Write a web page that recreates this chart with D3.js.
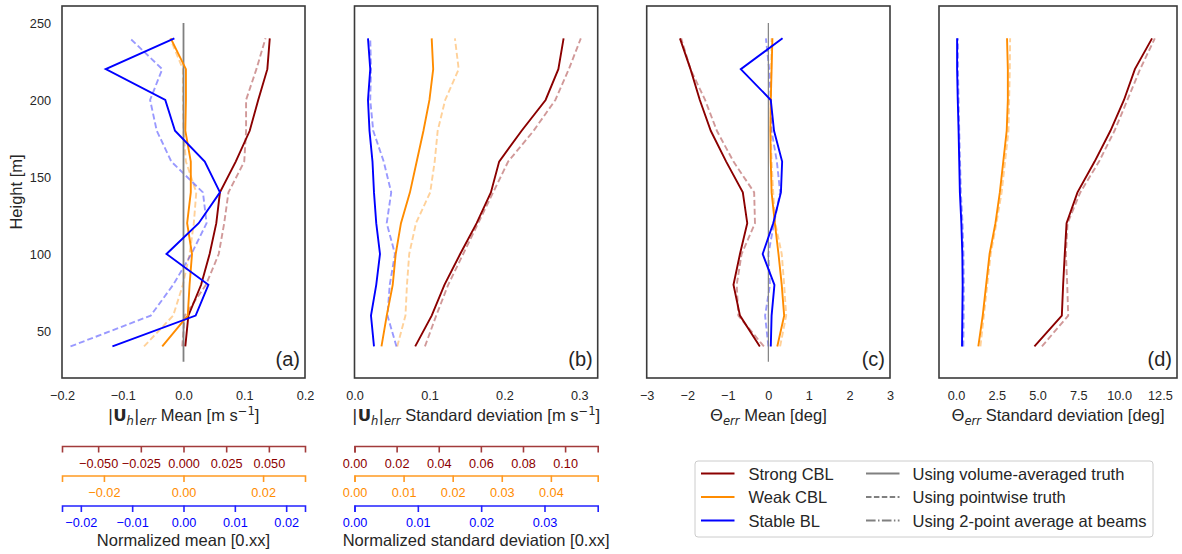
<!DOCTYPE html>
<html><head><meta charset="utf-8">
<script src="https://cdn.jsdelivr.net/npm/d3@7"></script>
<style>
html,body{margin:0;padding:0;background:#fff;}
svg{display:block;font-family:"Liberation Sans",Arial,sans-serif;}
</style></head>
<body>
<svg id="chart" width="1182" height="554"></svg>
<script>
// ---------------- DATA ----------------
const heights = [40, 60, 80, 100, 120, 140, 160, 180, 200, 220, 240];
const refHeights = [30, 250];
const yTicks = [50, 100, 150, 200, 250];

// (a) |Uh|err mean [m/s]
const aStrongVol = [0.003, 0.008, 0.029, 0.043, 0.054, 0.060, 0.086, 0.109, 0.123, 0.138, 0.142];
const aStrongPt  = [-0.002, 0.002, 0.037, 0.058, 0.067, 0.074, 0.100, 0.103, 0.103, 0.120, 0.135];
const aWeakVol   = [-0.035, 0.007, 0.010, 0.014, 0.006, 0.012, 0.012, 0.003, 0.004, 0.004, -0.021];
const aWeakPt    = [-0.065, -0.017, -0.001, 0.010, 0.017, 0.021, 0.004, 0.000, -0.001, -0.001, -0.022];
const aStableVol = [-0.117, 0.020, 0.041, -0.028, 0.025, 0.060, 0.035, -0.014, -0.030, -0.128, -0.015];
const aStablePt  = [-0.186, -0.054, -0.017, 0.013, 0.038, 0.032, -0.020, -0.044, -0.055, -0.035, -0.088];

// (b) |Uh|err standard deviation [m/s]
const bStrongVol = [0.081, 0.103, 0.120, 0.141, 0.163, 0.182, 0.193, 0.223, 0.255, 0.272, 0.279];
const bStrongPt  = [0.094, 0.109, 0.125, 0.145, 0.165, 0.185, 0.205, 0.239, 0.268, 0.286, 0.302];
const bWeakVol   = [0.036, 0.043, 0.051, 0.055, 0.062, 0.074, 0.083, 0.092, 0.100, 0.105, 0.103];
const bWeakPt    = [0.057, 0.068, 0.070, 0.073, 0.082, 0.101, 0.107, 0.111, 0.121, 0.139, 0.134];
const bStableVol = [0.026, 0.022, 0.029, 0.034, 0.029, 0.026, 0.024, 0.020, 0.018, 0.021, 0.018];
const bStablePt  = [0.056, 0.044, 0.047, 0.054, 0.043, 0.049, 0.039, 0.025, 0.021, 0.022, 0.021];

// (c) Theta err mean [deg]
const cStrongVol = [-0.21, -0.70, -0.86, -0.70, -0.52, -0.63, -1.04, -1.42, -1.69, -1.92, -2.18];
const cStrongPt  = [-0.11, -0.74, -0.78, -0.66, -0.33, -0.35, -0.86, -1.27, -1.56, -1.92, -2.15];
const cWeakVol   = [0.22, 0.39, 0.33, 0.25, 0.16, 0.08, 0.06, 0.05, 0.06, 0.08, 0.10];
const cWeakPt    = [0.29, 0.44, 0.39, 0.33, 0.17, 0.12, 0.08, 0.06, 0.06, 0.07, 0.08];
const cStableVol = [0.06, 0.08, 0.15, -0.14, 0.12, 0.31, 0.34, 0.14, 0.06, -0.68, 0.35];
const cStablePt  = [0.00, -0.08, 0.04, 0.00, 0.14, 0.29, 0.21, 0.08, 0.06, 0.02, -0.06];

// (d) Theta err standard deviation [deg]
const dStrongVol = [4.81, 6.49, 6.57, 6.67, 6.78, 7.45, 8.50, 9.47, 10.30, 10.97, 12.02];
const dStrongPt  = [5.27, 6.88, 6.82, 6.74, 6.84, 7.62, 8.77, 9.72, 10.51, 11.29, 12.19];
const dWeakVol   = [1.37, 1.64, 1.85, 2.06, 2.42, 2.69, 2.90, 3.11, 3.18, 3.18, 3.13];
const dWeakPt    = [1.50, 1.71, 1.92, 2.13, 2.48, 2.80, 3.01, 3.22, 3.26, 3.30, 3.32];
const dStableVol = [0.37, 0.39, 0.41, 0.39, 0.33, 0.24, 0.20, 0.16, 0.11, 0.07, 0.07];
const dStablePt  = [0.45, 0.47, 0.48, 0.46, 0.40, 0.30, 0.25, 0.20, 0.16, 0.12, 0.12];

// main x ticks
const aTicks = [-0.2, -0.1, 0.0, 0.1, 0.2];
const bTicks = [0.0, 0.1, 0.2, 0.3];
const cTicks = [-3, -2, -1, 0, 1, 2, 3];
const dTicks = [0.0, 2.5, 5.0, 7.5, 10.0, 12.5];

// normalization factors (strong, weak, stable) for secondary axes
const caseNames = ["Strong CBL", "Weak CBL", "Stable BL"];
const normFactors = [2.81, 6.55, 8.45];
const meanNormTicks = [[-0.05, -0.025, 0, 0.025, 0.05], [-0.02, 0, 0.02], [-0.02, -0.01, 0, 0.01, 0.02]];
const stdNormTicks  = [[0, 0.02, 0.04, 0.06, 0.08, 0.10], [0, 0.01, 0.02, 0.03, 0.04], [0, 0.01, 0.02, 0.03]];
const meanNormFmt = [".3f", ".2f", ".2f"];
const stdNormFmt = [".2f", ".2f", ".2f"];
const styleNames = ["Using volume-averaged truth", "Using pointwise truth", "Using 2-point average at beams"];

// ---------------- STYLE ----------------
const caseColors = ["#8b0000", "#ff8c00", "#0000ff"];
const spineColors = ["#a23b3b", "#ff9a22", "#2222ff"];
const textCol = "#262626";
const TICK_FS = 12.7, TITLE_FS = 16.5, LEG_FS = 16.5;
const MATH_FONT = "DejaVu Sans";

const svg = d3.select("#chart");
const plotTop = 6, plotBottom = 378;
const y = d3.scaleLinear().domain([19.5, 261]).range([plotBottom, plotTop]);

const panels = [
  {left: 62, right: 305, dom: [-0.2, 0.2], ticks: aTicks, fmt: ".1f", letter: "(a)",
   series: [[aStrongVol, aStrongPt], [aWeakVol, aWeakPt], [aStableVol, aStablePt]], ref: 1.8,
   title: [["|", "m"], ["U", "b"], ["h", "subi"], ["|", "m"], ["err", "subi"], [" Mean [m s", ""], ["−1", "sup"], ["]", ""]]},
  {left: 354.5, right: 597.7, dom: [0, 0.3245], ticks: bTicks, fmt: ".1f", letter: "(b)",
   series: [[bStrongVol, bStrongPt], [bWeakVol, bWeakPt], [bStableVol, bStablePt]], ref: 0,
   title: [["|", "m"], ["U", "b"], ["h", "subi"], ["|", "m"], ["err", "subi"], [" Standard deviation [m s", ""], ["−1", "sup"], ["]", ""]]},
  {left: 646.7, right: 890, dom: [-3, 3], ticks: cTicks, fmt: "d", letter: "(c)",
   series: [[cStrongVol, cStrongPt], [cWeakVol, cWeakPt], [cStableVol, cStablePt]], ref: 1.2,
   title: [["Θ", "m"], ["err", "subi"], [" Mean [deg]", ""]]},
  {left: 939, right: 1177, dom: [-1.04, 13.55], ticks: dTicks, fmt: ".1f", letter: "(d)",
   series: [[dStrongVol, dStrongPt], [dWeakVol, dWeakPt], [dStableVol, dStablePt]], ref: 0,
   title: [["Θ", "m"], ["err", "subi"], [" Standard deviation [deg]", ""]]}
];

function addRich(textSel, parts, fs) {
  const kinds = parts.map(p => p[1]);
  const shift = kk => kk === "subi" ? fs * 0.22 : (kk === "sup" ? -fs * 0.38 : 0);
  parts.forEach(([t, k], i) => {
    const ts = textSel.append("tspan").text(t);
    if (k !== "") ts.attr("font-family", MATH_FONT);
    if (k === "b") ts.attr("font-weight", "bold");
    if (k === "subi") ts.attr("font-style", "italic").attr("font-size", fs * 0.7);
    if (k === "sup") ts.attr("font-size", fs * 0.7);
    const dy = shift(k) - (i > 0 ? shift(kinds[i - 1]) : 0);
    if (dy !== 0) ts.attr("dy", dy);
  });
}

const line = (x) => d3.line().x(d => x(d[0])).y(d => y(d[1]));

panels.forEach((p, pi) => {
  const x = d3.scaleLinear().domain(p.dom).range([p.left, p.right]);
  const g = svg.append("g");
  const cid = "clip" + pi;
  svg.append("clipPath").attr("id", cid).append("rect")
    .attr("x", p.left).attr("y", plotTop).attr("width", p.right - p.left).attr("height", plotBottom - plotTop);
  const plot = g.append("g").attr("clip-path", `url(#${cid})`);

  p.series.forEach((s, ci) => {
    plot.append("path")
      .attr("d", line(x)(heights.map((h, i) => [s[1][i], h])))
      .attr("fill", "none").attr("stroke", caseColors[ci]).attr("stroke-opacity", 0.4)
      .attr("stroke-width", 1.9).attr("stroke-dasharray", "6,3");
  });
  if (p.ref > 0) {
    plot.append("path")
      .attr("d", line(x)(refHeights.map(h => [0, h])))
      .attr("stroke", "#808080").attr("stroke-width", p.ref).attr("fill", "none");
  }
  p.series.forEach((s, ci) => {
    plot.append("path")
      .attr("d", line(x)(heights.map((h, i) => [s[0][i], h])))
      .attr("fill", "none").attr("stroke", caseColors[ci]).attr("stroke-width", 1.9);
  });

  g.append("rect").attr("x", p.left).attr("y", plotTop).attr("width", p.right - p.left)
    .attr("height", plotBottom - plotTop).attr("fill", "none").attr("stroke", "#3a3a3a").attr("stroke-width", 1.6);

  const ax = g.append("g").attr("transform", `translate(0,${plotBottom})`)
    .call(d3.axisBottom(x).tickValues(p.ticks).tickFormat(d3.format(p.fmt)).tickSize(0).tickPadding(13));
  ax.select(".domain").remove();
  ax.selectAll("text").attr("font-size", TICK_FS).attr("fill", textCol).attr("font-family", "Liberation Sans, Arial, sans-serif");

  const t = g.append("text").attr("x", (p.left + p.right) / 2).attr("y", 421)
    .attr("text-anchor", "middle").attr("font-size", TITLE_FS).attr("fill", textCol);
  addRich(t, p.title, TITLE_FS);

  g.append("text").attr("x", p.right - 5).attr("y", 366).attr("text-anchor", "end")
    .attr("font-size", 20).attr("fill", textCol).text(p.letter);
});

const yAx = svg.append("g").attr("transform", `translate(${panels[0].left},0)`)
  .call(d3.axisLeft(y).tickValues(yTicks).tickSize(0).tickPadding(11));
yAx.select(".domain").remove();
yAx.selectAll("text").attr("font-size", TICK_FS).attr("fill", textCol).attr("font-family", "Liberation Sans, Arial, sans-serif");
svg.append("text").attr("transform", `translate(22,${(plotTop + plotBottom) / 2}) rotate(-90)`)
  .attr("text-anchor", "middle").attr("font-size", TITLE_FS).attr("fill", textCol).text("Height [m]");

const secY = [446, 475.5, 505.5];
[[0, meanNormTicks, meanNormFmt, "Normalized mean [0.xx]"], [1, stdNormTicks, stdNormFmt, "Normalized standard deviation [0.xx]"]]
.forEach(([pi, ticksArr, fmts, label]) => {
  const p = panels[pi];
  normFactors.forEach((f, ci) => {
    const xs = d3.scaleLinear().domain([p.dom[0] / f, p.dom[1] / f]).range([p.left, p.right]);
    const ag = svg.append("g").attr("transform", `translate(0,${secY[ci]})`)
      .call(d3.axisBottom(xs).tickValues(ticksArr[ci]).tickFormat(d3.format(fmts[ci]))
        .tickSizeOuter(0).tickSize(6.5).tickPadding(6));
    ag.select(".domain").attr("stroke", spineColors[ci]).attr("stroke-width", 1.6);
    ag.selectAll(".tick line").attr("stroke", spineColors[ci]).attr("stroke-width", 1.6);
    ag.selectAll("text").attr("fill", caseColors[ci])
      .attr("font-size", TICK_FS).attr("font-family", "Liberation Sans, Arial, sans-serif");
  });
  svg.append("text").attr("x", (p.left + p.right) / 2).attr("y", 546).attr("text-anchor", "middle")
    .attr("font-size", TITLE_FS).attr("fill", textCol).text(label);
});

const lg = svg.append("g");
lg.append("rect").attr("x", 695).attr("y", 461).attr("width", 458).attr("height", 76)
  .attr("rx", 3).attr("fill", "#fff").attr("stroke", "#cccccc").attr("stroke-width", 1);
const rowY = [473.5, 497, 520.5];
caseNames.forEach((n, i) => {
  lg.append("line").attr("x1", 701).attr("x2", 734.5).attr("y1", rowY[i]).attr("y2", rowY[i])
    .attr("stroke", caseColors[i]).attr("stroke-width", 1.9);
  lg.append("text").attr("x", 748.5).attr("y", rowY[i] + 6).attr("font-size", LEG_FS).attr("fill", textCol).text(n);
});
const dashes = [null, "5.5,2.4", "9.6,2.4,1.5,2.4"];
styleNames.forEach((n, i) => {
  const l = lg.append("line").attr("x1", 866).attr("x2", 899.5).attr("y1", rowY[i]).attr("y2", rowY[i])
    .attr("stroke", "#808080").attr("stroke-width", 1.9);
  if (dashes[i]) l.attr("stroke-dasharray", dashes[i]);
  lg.append("text").attr("x", 912.5).attr("y", rowY[i] + 6).attr("font-size", LEG_FS).attr("fill", textCol).text(n);
});
</script>
</body></html>
